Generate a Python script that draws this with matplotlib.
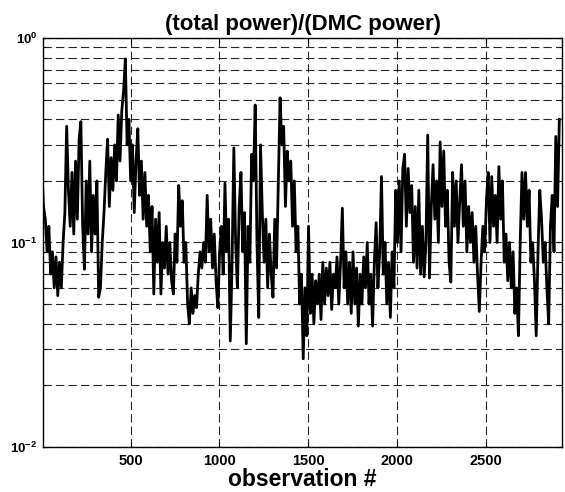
import numpy as np
import matplotlib
matplotlib.use("Agg")
import matplotlib.pyplot as plt
from matplotlib.ticker import FixedLocator, FixedFormatter, NullFormatter

plt.rcParams['font.family'] = ['Liberation Sans', 'DejaVu Sans']
plt.rcParams['font.weight'] = 'bold'
plt.rcParams['mathtext.fontset'] = 'custom'
plt.rcParams['mathtext.rm'] = 'Liberation Sans:bold'
plt.rcParams['mathtext.bf'] = 'Liberation Sans:bold'

ratio = [
    0.24, 0.15, 0.13, 0.09, 0.12, 0.07, 0.09, 0.06, 0.085, 0.055,
    0.08, 0.06, 0.10, 0.14, 0.37, 0.18, 0.12, 0.22, 0.11, 0.25,
    0.13, 0.32, 0.39, 0.12, 0.074, 0.2, 0.11, 0.25, 0.09, 0.17,
    0.11, 0.2, 0.054, 0.06, 0.1, 0.14, 0.22, 0.32, 0.15, 0.26,
    0.18, 0.3, 0.2, 0.42, 0.25, 0.44, 0.55, 0.79, 0.3, 0.4,
    0.2, 0.3, 0.14, 0.25, 0.36, 0.17, 0.25, 0.13, 0.22, 0.12,
    0.17, 0.09, 0.15, 0.056, 0.13, 0.08, 0.14, 0.056, 0.1, 0.075,
    0.12, 0.07, 0.1, 0.065, 0.056, 0.11, 0.08, 0.19, 0.12, 0.16,
    0.08, 0.1, 0.05, 0.04, 0.06, 0.045, 0.055, 0.048, 0.07, 0.09,
    0.075, 0.1, 0.08, 0.17, 0.09, 0.13, 0.075, 0.11, 0.065, 0.048,
    0.09, 0.12, 0.07, 0.195, 0.09, 0.13, 0.033, 0.08, 0.29, 0.1,
    0.06, 0.15, 0.22, 0.09, 0.14, 0.032, 0.12, 0.08, 0.27, 0.2,
    0.47, 0.1, 0.043, 0.3, 0.14, 0.08, 0.13, 0.06, 0.11, 0.07,
    0.054, 0.13, 0.075, 0.2, 0.51, 0.3, 0.37, 0.15, 0.28, 0.2,
    0.25, 0.12, 0.2, 0.09, 0.12, 0.05, 0.07, 0.027, 0.06, 0.035,
    0.12, 0.045, 0.07, 0.04, 0.065, 0.05, 0.07, 0.042, 0.08, 0.05,
    0.075, 0.055, 0.08, 0.047, 0.07, 0.06, 0.085, 0.05, 0.08, 0.147,
    0.06, 0.09, 0.05, 0.08, 0.045, 0.09, 0.05, 0.075, 0.039, 0.07,
    0.05, 0.085, 0.06, 0.1, 0.05, 0.07, 0.039, 0.08, 0.125, 0.06,
    0.09, 0.21, 0.07, 0.1, 0.05, 0.08, 0.043, 0.09, 0.06, 0.18,
    0.1, 0.2, 0.09, 0.23, 0.27, 0.12, 0.23, 0.14, 0.19, 0.08,
    0.15, 0.075, 0.18, 0.07, 0.12, 0.068, 0.1, 0.335, 0.067, 0.15,
    0.24, 0.13, 0.2, 0.1, 0.31, 0.15, 0.28, 0.12, 0.18, 0.08,
    0.064, 0.22, 0.12, 0.2, 0.1, 0.16, 0.24, 0.12, 0.2, 0.09,
    0.15, 0.1, 0.14, 0.08, 0.12, 0.07, 0.046, 0.08, 0.12, 0.09,
    0.16, 0.22, 0.1, 0.21, 0.12, 0.17, 0.1, 0.235, 0.13, 0.2,
    0.08, 0.11, 0.065, 0.1, 0.06, 0.09, 0.045, 0.06, 0.035, 0.1,
    0.22, 0.13, 0.22, 0.12, 0.18, 0.08, 0.1, 0.065, 0.035, 0.09,
    0.18, 0.13, 0.08, 0.1, 0.06, 0.04, 0.12, 0.17, 0.09, 0.33,
    0.15, 0.4,
]
obs = 1 + 10 * np.arange(len(ratio))

x_ticks = [500, 1000, 1500, 2000, 2500]
y_ticks = [1e-2, 1e-1, 1e0]
y_labels = [r'$\mathbf{10^{-2}}$', r'$\mathbf{10^{-1}}$', r'$\mathbf{10^{0}}$']

fig = plt.figure(figsize=(5.65, 4.92), dpi=100)
ax = fig.add_axes([0.0761, 0.0915, 0.9186, 0.8313])

ax.semilogy(obs, ratio, color='black', lw=2.0)

ax.set_xlim(8, 2926)
ax.set_ylim(1e-2, 1e0)
ax.xaxis.set_major_locator(FixedLocator(x_ticks))
ax.yaxis.set_major_locator(FixedLocator(y_ticks))
ax.yaxis.set_major_formatter(FixedFormatter(y_labels))
ax.yaxis.set_minor_formatter(NullFormatter())

grid_kw = dict(color='0.15', lw=0.8, dashes=(7.5, 3.75))
ax.grid(True, which='major', axis='both', **grid_kw)
ax.grid(True, which='minor', axis='y', **grid_kw)

ax.tick_params(direction='in', which='both', top=True, right=True, width=0.8)
ax.tick_params(axis='x', labelsize=10.5, pad=5)
ax.tick_params(axis='y', labelsize=9.5, pad=4)
for lab in ax.get_xticklabels():
    lab.set_fontweight('bold')
for s in ax.spines.values():
    s.set_linewidth(1.0)

ax.set_title('(total power)/(DMC power)', fontsize=16, fontweight='bold', pad=6)
ax.set_xlabel('observation #', fontsize=16.5, fontweight='bold', labelpad=0)

fig.savefig('out.png', dpi=100)
